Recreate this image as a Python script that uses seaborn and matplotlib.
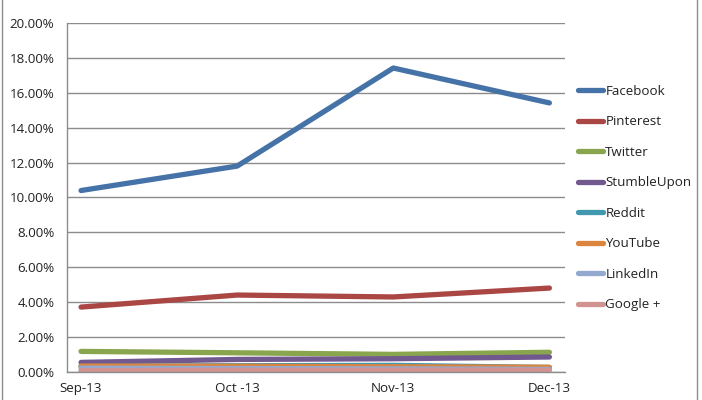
import pandas as pd
import matplotlib.pyplot as plt
import seaborn as sns
from matplotlib.patches import Rectangle

months = ["Sep-13", "Oct -13", "Nov-13", "Dec-13"]
networks = ["Facebook", "Pinterest", "Twitter", "StumbleUpon",
            "Reddit", "YouTube", "LinkedIn", "Google +"]

facebook = [10.40, 11.80, 17.42, 15.42]
pinterest = [3.72, 4.41, 4.30, 4.81]
twitter = [1.18, 1.10, 1.01, 1.13]
stumbleupon = [0.55, 0.72, 0.76, 0.86]
reddit = [0.32, 0.36, 0.38, 0.26]
youtube = [0.34, 0.33, 0.30, 0.27]
linkedin = [0.22, 0.20, 0.18, 0.15]
googleplus = [0.08, 0.10, 0.10, 0.10]

colors = ["#4572A7", "#AA4643", "#89A54E", "#71588F",
          "#4198AF", "#DB843D", "#93A9CF", "#D19392"]

series = [facebook, pinterest, twitter, stumbleupon,
          reddit, youtube, linkedin, googleplus]
rows = []
for name, vals in zip(networks, series):
    for i, v in enumerate(vals):
        rows.append({"month": i, "network": name, "share": v})
df = pd.DataFrame(rows)

sns.set_style("white")
plt.rcParams["font.family"] = ["Open Sans", "DejaVu Sans"]

fig = plt.figure(figsize=(7.02, 4.0), dpi=100)
ax = fig.add_axes([67 / 702, 28 / 400, (565 - 67) / 702, (372 - 23) / 400])

sns.lineplot(data=df, x="month", y="share", hue="network", hue_order=networks,
             palette=colors, linewidth=3.8, ax=ax, legend=False,
             solid_capstyle="round")

ax.set_xlim(-0.09, 3.1)
ax.set_ylim(0, 20)
ax.set_yticks(range(0, 21, 2))
ax.set_yticklabels([f"{v:.2f}%" for v in range(0, 21, 2)], fontsize=9.6, color="#222222")
ax.set_xticks(range(4))
ax.set_xticklabels(months, fontsize=9.6, color="#222222")
ax.yaxis.grid(True, color="#8c8c8c", linewidth=1)
ax.set_axisbelow(True)
ax.tick_params(axis="both", length=0)
ax.tick_params(axis="y", pad=9)
ax.tick_params(axis="x", pad=7)
ax.set_xlabel("")
ax.set_ylabel("")
for s in ["top", "right"]:
    ax.spines[s].set_visible(False)
for s in ["left", "bottom"]:
    ax.spines[s].set_color("#8c8c8c")
    ax.spines[s].set_linewidth(1)

handles = [plt.Line2D([], [], color=c, linewidth=3.8, solid_capstyle="round")
           for c in colors]
fig.legend(handles, networks, loc="upper left", bbox_to_anchor=(566 / 702, 1 - 73 / 400),
           frameon=False, fontsize=9.6, handlelength=1.9, handletextpad=0.15,
           labelspacing=1.31, labelcolor="#222222")

# outer frame edges
fig.add_artist(Rectangle((2 / 702, -0.01), (697 - 2) / 702, 1.1, transform=fig.transFigure,
                         fill=False, edgecolor="#8c8c8c", linewidth=1))

fig.savefig("out.png", dpi=100)
